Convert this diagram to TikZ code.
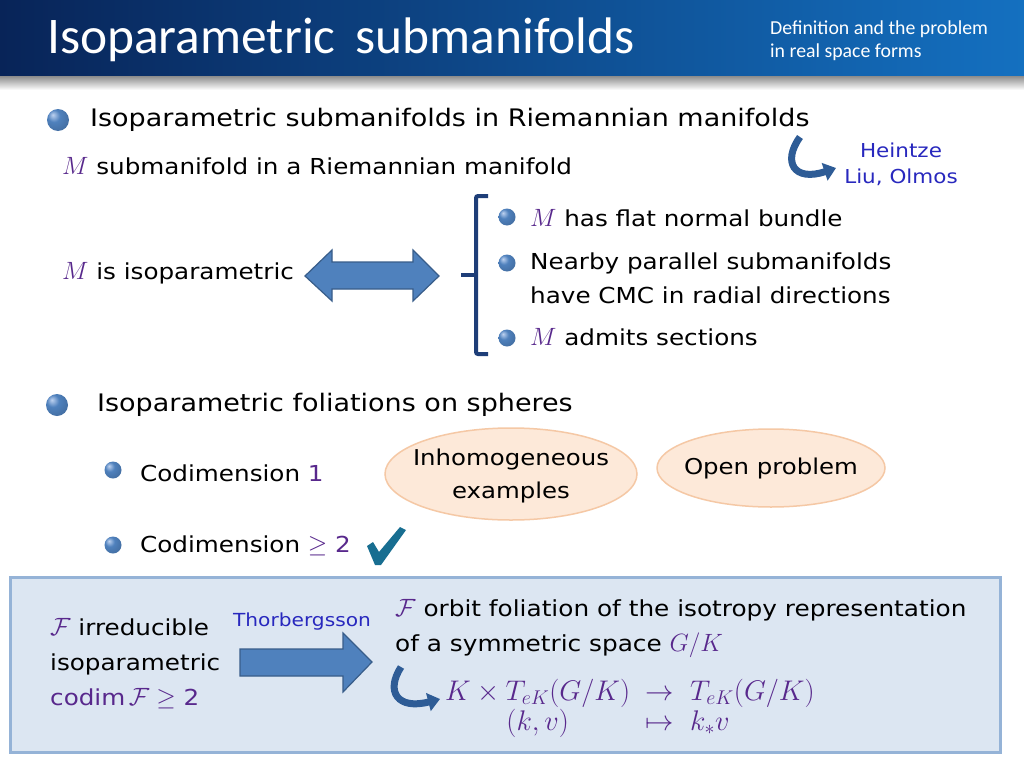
\RequirePackage{fix-cm}
\documentclass[tikz,border=0pt]{standalone}
\usepackage{fontspec}
\setmainfont[FakeStretch=1.12]{DejaVu Sans}
\newfontfamily\titlefont{Carlito}
\usetikzlibrary{shapes.geometric,arrows.meta,shadings}
\definecolor{mpurple}{RGB}{88,40,140}
\definecolor{refblue}{RGB}{40,40,190}
\definecolor{navyL}{RGB}{8,36,88}
\definecolor{navyR}{RGB}{20,112,192}
\definecolor{arrfill}{RGB}{79,129,189}
\definecolor{arrdraw}{RGB}{56,93,138}
\definecolor{brk}{RGB}{30,62,120}
\definecolor{ellfill}{RGB}{253,233,217}
\definecolor{elldraw}{RGB}{245,200,165}
\definecolor{boxfill}{RGB}{220,230,242}
\definecolor{boxdraw}{RGB}{149,179,215}
\definecolor{checkc}{RGB}{24,110,145}
\definecolor{curvec}{RGB}{46,92,150}
\definecolor{ballhi}{RGB}{190,210,240}
\definecolor{balldk}{RGB}{30,60,110}
\pgfdeclareradialshading{sphereb}{\pgfpoint{-12bp}{12bp}}{color(0bp)=(ballhi); color(14bp)=(arrfill); color(50bp)=(arrdraw); color(68bp)=(balldk)}
\tikzset{
  body/.style={anchor=west,inner sep=0pt,font=\fontsize{24.1}{28}\selectfont},
  bodys/.style={anchor=west,inner sep=0pt,font=\fontsize{22}{34}\selectfont},
  bigball/.style={circle,inner sep=0pt,minimum size=22pt,shading=sphereb},
  smallball/.style={circle,inner sep=0pt,minimum size=17pt,shading=sphereb},
  blockarrow/.style={fill=arrfill,draw=arrdraw,line width=1.2pt,line join=miter},
  ellshape/.style={fill=ellfill,draw=elldraw,line width=1.5pt},
  elltext/.style={align=center,inner sep=0pt,font=\fontsize{21.8}{33}\selectfont},
  curvearrow/.style={draw=curvec,line width=7pt,-{Triangle[length=12pt,width=18pt]}},
  refs/.style={text=refblue,font=\fontsize{19.2}{26}\selectfont,align=center,inner sep=0pt}
}
\newcommand{\mm}[1]{\textcolor{mpurple}{\fontsize{25}{30}\selectfont$#1$}}
\begin{document}
\begin{tikzpicture}[x=1pt,y=-1pt]
\useasboundingbox (0,0) rectangle (1024,768);
\fill[white] (0,0) rectangle (1024,768);
% title bar
\shade[left color=navyL,right color=navyR] (0,0) rectangle (1024,76);
\shade[top color=black!45,bottom color=white] (0,76) rectangle (1024,90);
\node[anchor=west,inner sep=0pt,text=white,font=\titlefont\fontsize{51.4}{54}\selectfont] (title) at (47,40) {Isoparametric\, submanifolds};
\node[anchor=west,inner sep=0pt,text=white,align=left,font=\titlefont\fontsize{19.8}{23}\selectfont] (sub) at (770,41) {Definition and the problem\\in real space forms};
% first bullet
\node[bigball] (b1) at (58,120) {};
\node[body] (t1) at (90,120) {Isoparametric submanifolds in Riemannian manifolds};
\node[bodys] (t2) at (62,166) {\mm{M} submanifold in a Riemannian manifold};
\coordinate (c1s) at (800,137);
\coordinate (c1e) at (836,168);
\draw[curvearrow] (c1s) .. controls (782,162) and (794,182) .. (c1e);
\node[refs] (heintze) at (901,164) {Heintze\\Liu, Olmos};
\node[bodys] (iso) at (62,273) {\mm{M} is isoparametric};
\path[blockarrow] (305,276) -- (332,250) -- (332,262) -- (413,262) -- (413,250) -- (439,276) -- (413,301) -- (413,289) -- (332,289) -- (332,301) -- cycle;
\draw[brk,line width=4pt,rounded corners=2pt] (488,196) -- (476,196) -- (476,354) -- (488,354);
\draw[brk,line width=4pt] (476,275) -- (461,275);
\node[smallball] (s1) at (507,217) {};
\node[smallball] (s2) at (507,263) {};
\node[smallball] (s3) at (507,338) {};
\node[bodys] (r1) at (530,218) {\mm{M} has flat normal bundle};
\node[bodys,align=left] (r2) at (530,278) {Nearby parallel submanifolds\\have CMC in radial directions};
\node[bodys] (r3) at (530,337) {\mm{M} admits sections};
% second bullet
\node[bigball] (b2) at (57,405) {};
\node[body] (t3) at (97,405) {Isoparametric foliations on spheres};
\node[smallball] (s4) at (113,470) {};
\node[bodys] (cd1) at (140,473) {Codimension \textcolor{mpurple}{1}};
\node[smallball] (s5) at (113,545) {};
\node[bodys] (cd2) at (140,546) {Codimension \textcolor{mpurple}{{\fontsize{25}{30}\selectfont$\geq$} 2}};
\fill[checkc] (367,546) -- (373,542) -- (379,552) -- (400,527) -- (406,530) -- (381,565) -- (375,565) -- cycle;
\draw[ellshape] (511,474) ellipse [x radius=126pt, y radius=46pt];
\node[elltext] (e1) at (511,476) {Inhomogeneous\\examples};
\draw[ellshape] (771,468) ellipse [x radius=114pt, y radius=39pt];
\node[elltext] (e2) at (771,468) {Open problem};
% bottom box
\draw[fill=boxfill,draw=boxdraw,line width=3pt] (10,577) rectangle (1000,752);
\node[bodys,align=left,font=\fontsize{22}{35}\selectfont] (f1) at (50,664) {\mm{\mathcal F} irreducible\\isoparametric\\\textcolor{mpurple}{codim\,{\fontsize{25}{30}\selectfont$\mathcal F\geq$} 2}};
\node[anchor=center,inner sep=0pt,text=refblue,font=\fontsize{18}{20}\selectfont] (thor) at (302,622) {Thorbergsson};
\path[blockarrow] (240,649) -- (343,649) -- (343,633) -- (372,662) -- (343,692) -- (343,676) -- (240,676) -- cycle;
\node[bodys,align=left,font=\fontsize{22.1}{35}\selectfont] (orb) at (395,629) {\mm{\mathcal F} orbit foliation of the isotropy representation\\of a symmetric space \mm{G/K}};
\coordinate (c2s) at (401,667);
\coordinate (c2e) at (440,699);
\draw[curvearrow] (c2s) .. controls (385,692) and (398,710) .. (c2e);
\node[anchor=west,inner sep=0pt,text=mpurple,font=\fontsize{28.4}{30}\selectfont] (map) at (445,709)
  {$\begin{array}{@{}c@{\;\;}c@{\;\;}l@{}} K\times T_{eK}(G/K) & \to & T_{eK}(G/K)\\ (k,v) & \mapsto & k_*v\end{array}$};
\end{tikzpicture}
\end{document}
